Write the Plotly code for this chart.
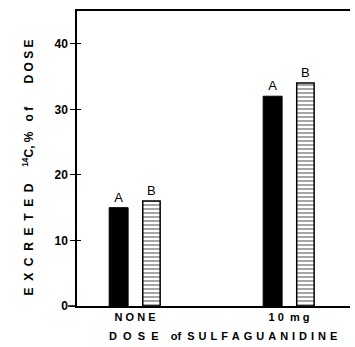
import plotly.graph_objects as go

categories = ["N O N E", "1 0  m g"]
cat_pos = [0, 1]
series_a = [15, 32]
series_b = [16, 34]
labels_a = ["A", "A"]
labels_b = ["B", "B"]
y_ticks = [0, 10, 20, 30, 40]

FONT = "Liberation Sans"
NB = "\u00a0"
TS = "\u2009"
HS = "\u200a"

def spaced(s, sep):
    return sep.join(list(s))

fig = go.Figure()
fig.add_trace(go.Bar(
    x=cat_pos, y=series_a, text=labels_a, textposition="outside",
    width=0.123, offset=-0.168,
    marker=dict(color="black", line=dict(color="black", width=1)),
    outsidetextfont=dict(family=FONT, size=13, color="black", weight="normal"),
    cliponaxis=False, showlegend=False,
))
fig.add_trace(go.Bar(
    x=cat_pos, y=series_b, text=labels_b, textposition="outside",
    width=0.113, offset=0.05,
    marker=dict(color="white", line=dict(color="black", width=1.5),
                pattern=dict(shape="-", fgcolor="black", bgcolor="white", size=4, solidity=0.35)),
    outsidetextfont=dict(family=FONT, size=13, color="black", weight="normal"),
    cliponaxis=False, showlegend=False,
))

tick_text = [c.replace(" ", NB) for c in categories]

fig.update_layout(
    width=355, height=347,
    margin=dict(l=77, r=5, t=11, b=41),
    paper_bgcolor="white", plot_bgcolor="white",
    barmode="overlay",
    font=dict(family=FONT, size=11, color="black", weight="bold"),
    xaxis=dict(range=[-0.377, 1.396], tickvals=cat_pos, ticktext=tick_text,
               showline=True, linecolor="black", linewidth=1.5, mirror=True,
               ticks="", showgrid=False, zeroline=False,
               tickfont=dict(family=FONT, size=11, weight="bold")),
    yaxis=dict(range=[0, 45], tickvals=y_ticks, showline=True, linecolor="black",
               linewidth=1.5, ticks="outside", ticklen=5, tickwidth=1.2, tickcolor="black",
               showgrid=False, zeroline=False,
               tickfont=dict(family=FONT, size=12, weight="bold")),
    yaxis2=dict(range=[0, 45], tickvals=y_ticks, overlaying="y", showticklabels=False,
                ticks="inside", ticklen=4, tickwidth=1.2, tickcolor="black",
                showgrid=False, zeroline=False, showline=False),
)
fig.add_trace(go.Scatter(x=[None], y=[None], yaxis="y2", showlegend=False))

# bottom axis line extending slightly left of the y axis
fig.add_shape(type="line", xref="paper", yref="paper", x0=-9 / 273, x1=0, y0=0, y1=0,
              line=dict(color="black", width=1.5))

x_title = (spaced("DOSE", NB + NB) + NB * 4 + "of" + NB * 2
           + spaced("SULFAGUANIDINE", NB + HS))
fig.add_annotation(
    text=x_title, xref="paper", yref="paper",
    x=(222.5 - 77) / 273, y=-(336 - 306) / 295, showarrow=False,
    font=dict(family=FONT, size=11, weight="bold"), xanchor="center", yanchor="middle",
)
y_title = (spaced("EXCRETED", NB + NB) + NB * 5 + "<sup>14</sup>" + "C," + NB + "%"
           + NB * 3 + "o" + NB + "f" + NB * 7 + spaced("DOSE", NB))
fig.add_annotation(
    text=y_title, xref="paper", yref="paper",
    x=-(77 - 27) / 273, y=(306 - 167.5) / 295, showarrow=False, textangle=-90,
    font=dict(family=FONT, size=12, weight="bold"), xanchor="center", yanchor="middle",
)

fig.write_html("out.html", config={"displayModeBar": False},
               post_script="document.body.style.margin='0px';")
